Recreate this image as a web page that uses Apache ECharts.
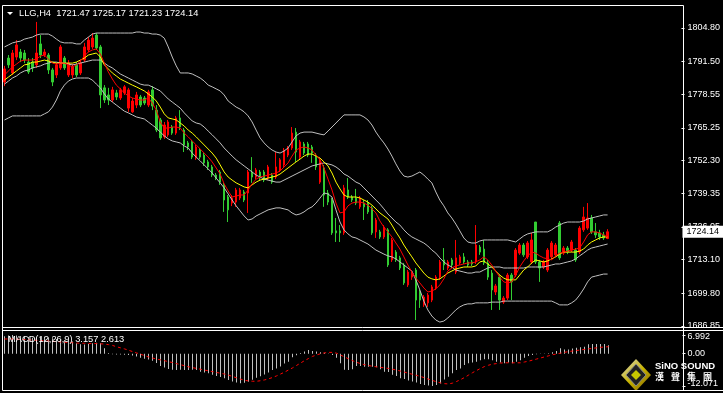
<!DOCTYPE html>
<html><head><meta charset="utf-8">
<script src="https://cdn.jsdelivr.net/npm/echarts@6/dist/echarts.min.js"></script>
<style>html,body{margin:0;padding:0;background:#000;overflow:hidden}#c{width:723px;height:393px}</style>
</head><body><div id="c"></div>
<script>
const titleText = 'LLG,H4  1721.47 1725.17 1721.23 1724.14';
const macdTitle = 'MACD(12,26,9) 3.157 2.613';
const priceTicks = [1804.80, 1791.50, 1778.55, 1765.25, 1752.30, 1739.35, 1726.05, 1713.10, 1699.80, 1686.85];
const macdTicks = [6.992, 0, -12.071];
const lastPrice = 1724.14;
const slotCount = 170;
const categories = Array.from({length: slotCount}, (_, i) => String(i + 1));

// [open, close, low, high]
const ohlc = [
[1783.4,1788.6,1781.8,1789.8],[1792.9,1790.2,1789.0,1794.1],[1787.0,1794.9,1786.2,1796.1],[1793.3,1798.1,1792.1,1800.0],[1795.3,1792.9,1791.3,1796.5],
[1794.9,1792.1,1790.9,1796.1],[1791.3,1787.4,1786.6,1792.9],[1791.3,1789.0,1787.4,1792.9],[1790.2,1794.9,1789.0,1807.2],[1798.5,1794.1,1792.9,1802.0],
[1794.1,1795.3,1793.3,1796.5],[1794.1,1788.2,1786.6,1794.9],[1788.2,1783.4,1781.8,1789.0],[1786.2,1790.2,1785.0,1790.9],[1789.0,1797.3,1788.2,1798.1],
[1792.9,1789.0,1788.2,1793.7],[1786.2,1790.9,1785.4,1792.1],[1786.2,1789.4,1785.0,1790.6],[1790.2,1786.2,1785.4,1791.3],[1787.0,1790.9,1786.2,1792.1],
[1792.1,1797.3,1791.3,1798.9],[1796.1,1800.0,1795.3,1801.2],[1797.3,1800.8,1796.5,1802.8],[1802.0,1796.9,1796.1,1802.8],[1797.3,1778.3,1773.1,1798.1],
[1781.1,1776.3,1775.1,1782.2],[1778.3,1776.3,1774.3,1781.1],[1776.3,1780.3,1775.5,1781.5],[1779.1,1777.5,1776.3,1780.3],[1777.1,1780.3,1776.3,1781.1],
[1779.1,1781.5,1778.3,1782.2],[1773.1,1780.3,1771.6,1781.1],[1771.6,1775.9,1771.2,1777.1],[1774.3,1778.3,1773.1,1779.5],[1777.5,1774.3,1773.5,1778.3],
[1777.1,1775.1,1774.3,1777.9],[1774.3,1779.5,1773.5,1780.3],[1780.3,1773.9,1772.3,1781.8],[1772.3,1764.4,1763.6,1774.3],[1768.4,1761.3,1760.5,1769.2],
[1761.7,1766.4,1760.9,1767.6],[1762.5,1767.6,1761.7,1768.4],[1765.6,1763.2,1762.5,1766.4],[1763.2,1769.2,1762.5,1770.0],[1769.2,1765.6,1764.4,1772.3],
[1764.4,1758.5,1755.7,1765.2],[1759.3,1757.7,1756.5,1760.1],[1759.7,1753.7,1752.9,1760.5],[1753.3,1757.7,1752.6,1758.5],[1756.5,1753.7,1752.9,1757.3],
[1754.5,1751.4,1750.2,1755.3],[1751.8,1749.8,1748.6,1752.6],[1749.8,1746.6,1745.8,1750.6],[1746.6,1745.4,1744.6,1747.4],[1747.8,1743.8,1742.7,1748.6],
[1742.7,1736.7,1732.0,1743.5],[1737.9,1732.8,1728.0,1738.7],[1735.5,1737.5,1734.3,1738.7],[1735.9,1740.7,1734.0,1741.5],[1737.5,1740.7,1736.7,1741.5],
[1739.9,1736.7,1735.9,1740.7],[1739.5,1747.8,1731.6,1748.6],[1747.8,1745.8,1743.5,1753.7],[1745.8,1748.6,1745.0,1749.4],[1747.8,1745.4,1744.6,1748.6],
[1747.8,1744.6,1743.8,1748.6],[1745.4,1749.8,1744.6,1750.6],[1746.6,1743.8,1743.1,1747.4],[1745.8,1749.8,1745.0,1755.7],[1748.6,1752.6,1747.8,1753.3],
[1750.6,1756.5,1749.8,1757.3],[1754.5,1757.3,1753.7,1758.1],[1757.3,1763.2,1756.5,1765.6],[1763.6,1755.7,1751.8,1765.2],[1753.7,1759.7,1752.6,1760.5],
[1758.9,1755.3,1754.5,1759.7],[1758.9,1754.5,1753.7,1759.7],[1757.7,1755.3,1751.4,1758.5],[1754.5,1749.8,1748.6,1755.3],[1743.8,1752.6,1743.1,1753.3],
[1749.4,1738.7,1734.0,1750.6],[1739.5,1735.9,1734.7,1740.7],[1736.7,1723.7,1722.9,1737.5],[1724.5,1723.7,1720.1,1729.6],[1724.5,1723.7,1720.1,1726.8],
[1723.7,1741.5,1722.9,1742.7],[1740.7,1737.9,1737.1,1745.4],[1737.9,1736.7,1735.9,1738.7],[1737.5,1735.5,1734.7,1741.1],[1734.0,1737.5,1733.2,1738.3],
[1735.5,1734.0,1728.8,1736.7],[1735.5,1732.0,1731.2,1736.7],[1733.6,1723.7,1722.9,1734.4],[1724.1,1728.8,1721.7,1729.6],[1724.1,1722.1,1721.3,1724.9],
[1722.1,1726.0,1721.3,1726.8],[1724.9,1711.0,1710.2,1725.6],[1713.0,1720.9,1712.2,1721.7],[1716.1,1713.0,1712.2,1716.9],[1713.8,1709.8,1709.0,1714.6],
[1711.0,1703.9,1703.1,1711.8],[1703.1,1708.2,1702.3,1709.0],[1706.2,1707.4,1705.1,1708.2],[1709.0,1697.1,1689.2,1709.8],[1700.3,1697.1,1694.0,1701.1],
[1695.2,1698.3,1694.4,1699.1],[1696.0,1699.1,1694.4,1699.9],[1697.1,1702.3,1696.3,1703.1],[1701.9,1706.2,1701.1,1707.0],[1706.2,1712.2,1705.1,1713.0],
[1713.0,1711.0,1709.0,1717.7],[1709.8,1712.2,1709.0,1713.0],[1713.0,1711.0,1709.8,1713.8],[1708.2,1713.8,1707.4,1720.9],[1711.8,1714.2,1711.0,1715.0],
[1714.2,1712.2,1711.4,1715.7],[1712.2,1711.0,1710.2,1713.0],[1712.2,1711.4,1710.6,1713.0],[1712.2,1718.9,1711.4,1726.8],[1718.1,1716.1,1715.0,1718.9],
[1717.3,1711.8,1711.0,1720.9],[1711.8,1706.2,1705.1,1713.0],[1707.8,1701.1,1693.2,1709.0],[1700.3,1702.7,1699.1,1703.5],[1706.2,1697.1,1693.2,1707.0],
[1696.3,1697.9,1695.6,1698.7],[1697.9,1707.0,1697.1,1707.8],[1707.0,1704.3,1697.1,1707.8],[1707.0,1716.9,1706.2,1717.7],[1715.7,1718.9,1715.0,1719.7],
[1718.9,1715.0,1714.2,1719.7],[1714.2,1719.7,1713.4,1720.5],[1712.2,1720.9,1711.4,1723.7],[1728.0,1712.2,1711.4,1728.0],[1712.2,1709.8,1704.3,1713.0],
[1710.2,1712.2,1709.4,1713.0],[1709.0,1716.9,1708.2,1717.7],[1714.2,1719.7,1713.4,1720.5],[1715.0,1718.9,1714.2,1719.7],[1727.6,1713.8,1713.0,1728.4],
[1715.7,1717.7,1715.0,1718.5],[1717.7,1716.1,1715.3,1718.5],[1716.9,1720.1,1716.1,1720.9],[1716.9,1713.0,1712.2,1717.7],[1716.1,1725.6,1715.3,1726.4],
[1724.9,1730.0,1724.1,1734.0],[1725.6,1729.6,1724.9,1735.5],[1729.6,1724.1,1723.3,1730.8],[1724.1,1722.9,1721.7,1727.6],[1723.7,1722.1,1720.9,1724.9],
[1722.9,1721.7,1720.9,1724.1],[1721.47,1724.14,1721.23,1725.17]
];

const maYellow = [
1784.2,1785.4,1786.6,1787.8,1789.0,1790.2,1790.5,1791.3,1791.3,1791.7,
1792.1,1791.7,1791.3,1790.9,1790.9,1790.9,1790.9,1790.9,1791.3,1792.1,
1792.9,1794.1,1794.5,1794.9,1793.3,1790.2,1788.6,1787.0,1785.8,1784.6,
1783.8,1783.0,1782.2,1781.5,1780.7,1779.9,1778.7,1777.5,1775.9,1773.5,
1770.8,1769.2,1768.8,1768.4,1767.2,1766.0,1764.4,1763.2,1761.7,1760.1,
1758.5,1756.9,1755.3,1753.3,1750.6,1747.8,1745.8,1744.6,1743.5,1742.7,
1741.9,1741.5,1742.7,1743.8,1744.6,1745.0,1745.4,1745.8,1746.2,1747.0,
1748.2,1749.4,1750.6,1751.8,1752.9,1754.1,1754.9,1754.9,1754.1,1753.3,
1751.8,1750.2,1747.4,1743.8,1741.1,1738.7,1737.9,1737.9,1737.9,1737.5,
1736.7,1735.9,1734.7,1733.2,1731.6,1730.4,1729.2,1726.8,1724.1,1721.7,
1718.9,1716.5,1714.2,1711.8,1709.8,1707.8,1706.2,1705.5,1705.1,1705.5,
1706.6,1707.8,1708.6,1709.4,1709.8,1710.2,1710.2,1710.2,1710.6,1712.2,
1712.6,1711.4,1710.2,1708.6,1707.0,1705.8,1705.1,1705.1,1705.1,1707.0,
1709.0,1710.2,1711.8,1713.0,1712.6,1712.2,1712.6,1713.4,1714.2,1715.3,
1716.1,1716.1,1716.1,1716.1,1716.5,1717.3,1718.9,1720.1,1720.9,1721.7,
1722.1,1722.1
];

const maRed = [
1786.2,1787.8,1789.4,1790.5,1791.7,1792.1,1792.1,1792.1,1792.5,1793.7,
1794.1,1792.5,1790.9,1790.5,1790.9,1790.9,1790.2,1789.4,1790.2,1791.7,
1793.7,1795.3,1796.1,1796.5,1794.5,1790.9,1787.4,1784.6,1782.2,1780.7,
1779.1,1777.9,1777.1,1776.7,1776.3,1776.3,1777.1,1775.1,1772.3,1767.6,
1765.2,1765.2,1765.6,1765.6,1765.2,1763.2,1761.7,1760.1,1758.5,1756.9,
1755.3,1753.7,1751.8,1749.4,1747.0,1743.1,1740.3,1737.9,1738.3,1738.7,
1738.7,1740.7,1743.1,1745.0,1745.8,1746.2,1746.6,1747.0,1747.4,1748.2,
1749.8,1751.4,1754.1,1756.5,1757.3,1757.7,1757.3,1756.5,1754.5,1752.6,
1749.4,1745.0,1740.7,1735.5,1731.6,1732.0,1734.4,1735.5,1735.9,1735.9,
1735.5,1734.7,1733.2,1731.6,1728.4,1726.0,1724.1,1722.1,1719.7,1717.3,
1714.2,1711.0,1708.2,1705.8,1703.9,1701.9,1700.3,1700.7,1701.5,1703.1,
1705.5,1708.6,1709.8,1710.6,1711.0,1711.4,1711.8,1711.8,1712.2,1713.0,
1714.2,1713.0,1711.0,1708.6,1706.2,1704.3,1703.9,1704.3,1707.0,1710.2,
1712.6,1714.6,1716.1,1715.7,1714.6,1713.8,1713.4,1713.0,1714.6,1715.7,
1716.1,1716.5,1716.9,1717.3,1717.7,1720.1,1722.9,1724.1,1724.1,1723.7,
1722.9,1722.1
];

const bbUpper = [
1797.3,1798.1,1798.9,1799.3,1799.6,1800.4,1800.8,1801.2,1802.0,1802.4,
1802.4,1802.4,1801.6,1800.4,1799.3,1798.9,1798.9,1798.9,1798.5,1798.5,
1800.0,1801.2,1802.4,1802.8,1802.8,1802.8,1802.8,1802.8,1802.8,1802.8,
1802.8,1802.8,1802.8,1803.2,1803.2,1802.8,1802.8,1802.4,1802.4,1802.0,
1800.8,1797.3,1793.3,1789.8,1787.0,1787.0,1787.0,1786.6,1785.8,1785.0,
1783.8,1782.2,1781.5,1780.7,1779.9,1778.3,1775.9,1774.7,1773.5,1772.7,
1771.6,1770.0,1767.6,1764.4,1761.3,1759.3,1757.7,1756.5,1755.7,1755.3,
1756.1,1757.3,1759.7,1762.1,1763.2,1763.6,1763.6,1763.6,1763.2,1762.8,
1762.5,1764.0,1765.6,1767.2,1768.8,1770.4,1770.4,1770.4,1770.4,1770.4,
1769.6,1768.4,1766.4,1763.6,1761.3,1759.3,1756.9,1754.1,1751.0,1748.2,
1746.2,1745.8,1746.2,1747.0,1747.8,1746.6,1745.0,1743.5,1739.9,1736.7,
1734.4,1731.6,1729.6,1727.2,1724.5,1721.7,1720.1,1719.7,1719.7,1720.5,
1720.9,1720.9,1720.9,1720.9,1720.9,1720.9,1720.9,1720.5,1720.1,1721.3,
1722.5,1723.3,1723.7,1724.1,1724.1,1724.1,1724.1,1724.9,1726.0,1726.8,
1727.6,1728.0,1728.0,1728.0,1728.0,1728.4,1729.2,1729.6,1730.0,1730.4,
1730.8,1730.8
];

const bbMid = [
1782.6,1783.8,1785.0,1785.8,1787.0,1787.8,1788.2,1789.0,1789.4,1789.8,
1790.5,1790.9,1791.3,1791.3,1790.9,1790.9,1790.5,1790.2,1790.5,1790.9,
1791.3,1791.7,1792.1,1792.1,1792.1,1790.9,1789.8,1789.0,1787.8,1786.6,
1785.8,1785.0,1784.2,1783.4,1782.6,1782.2,1782.2,1781.5,1780.7,1779.9,
1778.3,1776.7,1775.5,1774.3,1773.1,1771.2,1769.6,1768.0,1767.2,1766.8,
1765.6,1764.0,1762.5,1760.9,1759.3,1757.3,1755.7,1754.1,1752.6,1751.4,
1750.2,1749.0,1747.8,1746.6,1745.8,1745.0,1744.6,1744.2,1743.8,1743.8,
1744.6,1745.4,1746.2,1747.0,1747.8,1748.6,1749.4,1750.2,1750.6,1751.0,
1751.4,1751.0,1750.6,1749.8,1748.6,1747.0,1746.2,1745.0,1743.8,1743.1,
1741.5,1739.9,1738.3,1736.7,1735.1,1733.2,1731.2,1729.6,1728.0,1726.8,
1724.9,1723.3,1722.1,1721.3,1720.5,1719.7,1718.5,1716.9,1715.7,1713.8,
1712.2,1711.0,1710.2,1709.0,1708.6,1708.2,1707.8,1707.8,1708.2,1708.2,
1709.0,1709.8,1710.2,1710.2,1710.2,1709.8,1709.8,1709.8,1709.8,1709.8,
1709.8,1710.2,1710.2,1710.2,1710.2,1710.2,1710.6,1711.0,1711.4,1711.4,
1711.8,1712.2,1712.6,1713.4,1714.6,1715.7,1716.9,1717.7,1718.1,1718.5,
1718.9,1719.3
];

const bbLower = [
1768.4,1769.2,1770.0,1770.0,1770.0,1770.0,1770.0,1770.0,1770.0,1770.0,
1770.8,1771.6,1773.5,1776.3,1779.9,1782.2,1783.8,1784.6,1785.0,1785.0,
1785.0,1785.0,1784.2,1782.6,1781.1,1778.7,1776.7,1775.5,1774.3,1773.1,
1771.9,1771.2,1770.4,1769.6,1769.2,1768.8,1767.6,1766.4,1765.2,1763.6,
1762.1,1760.9,1760.1,1759.7,1759.3,1758.1,1757.3,1755.3,1753.7,1752.2,
1750.6,1749.0,1747.4,1745.4,1743.5,1741.5,1739.1,1736.7,1734.4,1732.4,
1730.4,1728.8,1729.2,1730.4,1731.2,1732.0,1732.8,1733.2,1733.6,1733.6,
1733.2,1732.8,1731.6,1730.8,1731.2,1732.0,1733.2,1734.0,1735.5,1737.5,
1739.5,1739.1,1737.9,1732.8,1728.0,1724.9,1723.3,1722.1,1721.7,1720.9,
1720.1,1719.3,1718.1,1716.9,1716.1,1715.3,1714.6,1714.2,1713.4,1712.2,
1711.0,1709.8,1708.6,1705.1,1701.1,1696.7,1693.2,1690.8,1689.2,1688.4,
1688.8,1690.0,1691.6,1693.2,1694.4,1695.2,1695.6,1695.6,1696.0,1696.0,
1696.0,1696.0,1696.3,1696.3,1696.3,1696.7,1696.7,1696.7,1696.7,1696.7,
1696.7,1696.7,1696.7,1696.7,1696.7,1696.7,1696.7,1696.7,1696.0,1695.2,
1695.2,1695.2,1696.0,1697.1,1699.1,1701.5,1704.3,1706.2,1706.6,1707.0,
1707.4,1707.4
];

const macdHist = [
6.5,6.8,6.992,6.8,6.6,6.4,6.2,6.0,6.0,6.2,
6.3,6.1,5.8,5.5,5.3,5.1,4.9,4.6,3.9,3.5,
3.4,3.6,3.9,4.1,3.9,2.0,0.3,-0.2,-0.3,-0.3,
-0.4,-0.5,-0.7,-1.0,-1.5,-1.9,-2.2,-2.6,-3.5,-4.6,
-5.2,-5.7,-6.0,-6.1,-6.0,-6.1,-6.1,-6.0,-6.1,-6.7,
-7.0,-7.3,-7.9,-8.3,-8.7,-9.2,-9.8,-10.4,-10.8,-11.07,
-10.9,-10.5,-9.7,-9.0,-8.4,-7.8,-7.0,-6.1,-5.5,-4.8,
-3.7,-3.0,-1.3,-0.6,0.3,0.8,1.4,1.0,0.8,0.5,
0.4,0.1,-0.5,-1.5,-3.6,-6.0,-6.1,-5.8,-4.6,-4.6,
-4.85,-4.85,-4.9,-5.1,-5.8,-6.7,-6.8,-7.9,-8.3,-9.2,
-9.5,-10.0,-10.4,-10.8,-11.3,-11.7,-11.9,-12.071,-11.7,-11.1,
-9.6,-8.6,-7.3,-6.1,-5.5,-4.2,-3.6,-3.3,-3.0,-2.4,
-2.1,-2.1,-2.4,-3.0,-3.3,-3.6,-3.3,-3.6,-3.0,-2.4,
-1.5,-0.9,-0.5,-0.2,-0.1,-0.1,0.2,0.5,1.0,2.0,
1.6,1.6,1.9,2.2,2.4,2.6,3.5,3.6,3.6,3.6,
3.6,3.157
];

const macdSignal = [
5.5,5.5,5.5,5.4,5.4,5.3,5.2,5.1,5.0,4.9,
4.8,4.7,4.6,4.5,4.4,4.3,4.2,4.1,4.0,3.9,
3.9,3.8,3.8,3.8,3.7,3.6,3.4,3.1,2.6,2.2,
1.8,1.3,0.8,0.3,-0.2,-0.7,-1.2,-1.6,-2.0,-2.3,
-2.6,-3.0,-3.3,-3.7,-4.1,-4.5,-4.9,-5.2,-5.5,-5.8,
-6.1,-6.4,-6.7,-7.0,-7.3,-7.6,-8.0,-8.5,-9.0,-9.5,
-9.9,-10.2,-10.3,-10.3,-10.1,-9.8,-9.4,-8.9,-8.3,-7.6,
-6.9,-6.1,-5.3,-4.4,-3.5,-2.6,-1.8,-1.0,-0.5,0.0,
0.3,0.5,0.5,0.2,-0.5,-1.2,-1.9,-2.6,-3.2,-3.7,
-4.1,-4.4,-4.7,-4.9,-5.1,-5.3,-5.5,-5.8,-6.1,-6.5,
-6.9,-7.3,-7.7,-8.1,-8.5,-9.0,-9.5,-10.0,-10.5,-10.9,
-11.2,-11.3,-11.0,-10.4,-9.7,-8.9,-8.0,-7.1,-6.3,-5.5,
-4.8,-4.3,-3.9,-3.7,-3.5,-3.4,-3.4,-3.4,-3.4,-3.4,
-3.1,-2.8,-2.4,-2.0,-1.6,-1.2,-0.8,-0.4,-0.1,0.2,
0.5,0.8,1.0,1.2,1.4,1.6,1.8,2.0,2.2,2.4,
2.5,2.613
];

const FONT = 'Liberation Sans, Arial, sans-serif';
const CJK = '"Noto Sans CJK TC", "Noto Sans CJK SC", sans-serif';
const chart = echarts.init(document.getElementById('c'), null, {renderer: 'canvas'});

const lineSeries = (name, data, color) => ({
  name, type: 'line', data, xAxisIndex: 0, yAxisIndex: 0,
  symbol: 'none', showSymbol: false, silent: true, z: 3,
  lineStyle: {color, width: 1}
});

const W = '#ffffff';
const seg = (x1, y1, x2, y2) => ({type: 'line', silent: true, z: 10,
  shape: {x1, y1, x2, y2}, style: {stroke: W, lineWidth: 1}});
const cjkChar = (t, x) => ({type: 'text', x, y: 377,
  style: {text: t, fill: W, font: 'bold 9px ' + CJK, verticalAlign: 'middle'}});

chart.setOption({
  animation: false,
  backgroundColor: '#000000',
  grid: [
    {left: 2.5, width: 680, top: 5, height: 322},
    {left: 2.5, width: 680, top: 331, height: 59}
  ],
  xAxis: [
    {type: 'category', gridIndex: 0, data: categories, boundaryGap: true, show: false},
    {type: 'category', gridIndex: 1, data: categories, boundaryGap: true, show: false}
  ],
  yAxis: [
    {type: 'value', gridIndex: 0, position: 'right', min: 1686.45, max: 1813.90, z: 5,
     splitLine: {show: false}, axisLine: {show: false},
     axisTick: {show: true, customValues: priceTicks, length: 3, lineStyle: {color: W}},
     axisLabel: {customValues: priceTicks, color: W, fontSize: 9, fontFamily: FONT, margin: 6,
                 formatter: v => v.toFixed(2)}},
    {type: 'value', gridIndex: 1, position: 'right', min: -13.566, max: 8.487, z: 5,
     splitLine: {show: false}, axisLine: {show: false},
     axisTick: {show: true, customValues: macdTicks, length: 3, lineStyle: {color: W}},
     axisLabel: {customValues: macdTicks, color: W, fontSize: 9, fontFamily: FONT, margin: 5,
                 formatter: v => v === 0 ? '{m|0.00}' : (v > 0 ? '{t|' + v.toFixed(3) + '}' : '{b|' + v.toFixed(3) + '}'),
                 rich: {m: {color: W, fontSize: 9, fontFamily: FONT},
                        t: {color: W, fontSize: 9, fontFamily: FONT, padding: [4, 0, 0, 0]},
                        b: {color: W, fontSize: 9, fontFamily: FONT, padding: [0, 0, 4, 0]}}}}
  ],
  series: [
    {type: 'candlestick', name: 'LLG', data: ohlc, xAxisIndex: 0, yAxisIndex: 0,
     barWidth: 2, z: 2, silent: true, clip: false,
     itemStyle: {color: '#ff0000', color0: '#32cd32', borderColor: '#ff0000', borderColor0: '#32cd32', borderWidth: 1},
     markLine: {silent: true, symbol: ['none', 'none'], animation: false, z: 20,
       lineStyle: {color: 'rgba(0,0,0,0)', width: 1, type: 'solid'},
       label: {show: true, position: 'end', distance: 1, formatter: () => lastPrice.toFixed(2),
               backgroundColor: '#ffffff', color: '#000000', fontSize: 9, fontFamily: FONT,
               padding: [2, 5, 1, 4], opacity: 1},
       emphasis: {disabled: true},
       data: [{yAxis: lastPrice}]}},
    lineSeries('BB Upper', bbUpper, '#c0c0c0'),
    lineSeries('BB Mid', bbMid, '#c0c0c0'),
    lineSeries('BB Lower', bbLower, '#c0c0c0'),
    lineSeries('MA slow', maYellow, '#ffff00'),
    lineSeries('MA fast', maRed, '#ff0000'),
    {type: 'bar', name: 'MACD', data: macdHist, xAxisIndex: 1, yAxisIndex: 1,
     barWidth: 1, silent: true, itemStyle: {color: '#c0c0c0'}},
    {type: 'line', name: 'Signal', data: macdSignal, xAxisIndex: 1, yAxisIndex: 1,
     symbol: 'none', showSymbol: false, silent: true, z: 4,
     lineStyle: {color: '#ff0000', width: 1, type: [3, 3]}}
  ],
  graphic: [
    seg(2.5, 5.5, 683.5, 5.5),
    seg(2.5, 5.5, 2.5, 390.5),
    seg(683.5, 5.5, 683.5, 390.5),
    seg(2.5, 327.5, 723, 327.5),
    seg(2.5, 330.5, 723, 330.5),
    seg(2.5, 390.5, 723, 390.5),
    {type: 'polygon', silent: true, z: 10, shape: {points: [[7, 12], [13, 12], [10, 15]]}, style: {fill: W}},
    {type: 'text', silent: true, z: 10, x: 19, y: 13,
     style: {text: titleText, fill: W, font: '9.3px ' + FONT, verticalAlign: 'middle'}},
    {type: 'text', silent: true, z: 10, x: 8, y: 339,
     style: {text: macdTitle, fill: W, font: '9.3px ' + FONT, verticalAlign: 'middle'}},
    {type: 'group', silent: true, z: 1, children: [
      {type: 'polygon', shape: {points: [[636, 359], [651, 375], [636, 391], [621, 375]]},
       style: {fill: new echarts.graphic.LinearGradient(0, 0, 1, 1, [{offset: 0, color: '#d9d9d9'}, {offset: 0.5, color: '#c8b400'}, {offset: 1, color: '#806000'}])}},
      {type: 'polygon', shape: {points: [[636, 364], [646, 375], [636, 386], [626, 375]]},
       style: {fill: '#202020', stroke: '#8a8a8a', lineWidth: 1}},
      {type: 'polygon', shape: {points: [[636, 370], [641, 375], [636, 380], [631, 375]]},
       style: {fill: '#c8c800'}},
      {type: 'text', x: 655, y: 366, style: {text: 'SiNO SOUND', fill: W, font: 'bold 9.5px ' + FONT, verticalAlign: 'middle'}},
      cjkChar('漢', 655), cjkChar('聲', 671), cjkChar('集', 687), cjkChar('團', 703)
    ]}
  ]
});
</script>
</body></html>
